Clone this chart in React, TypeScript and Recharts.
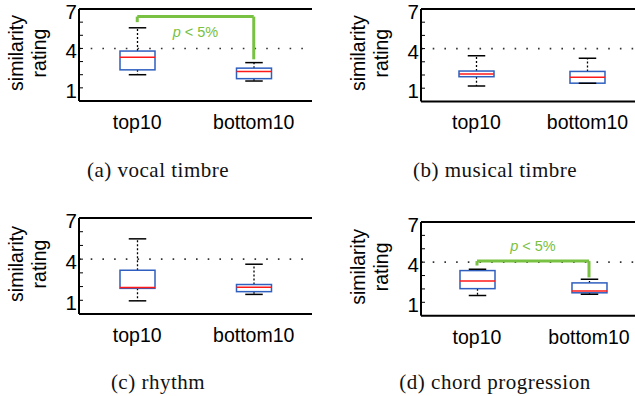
import React from "react";
import { ComposedChart, Bar, XAxis, YAxis, ReferenceLine } from "recharts";

const groups = ["top10", "bottom10"];
const yTicks = [1, 2, 3, 4, 5, 6, 7];
const labeledTicks = [1, 4, 7];
const midLine = 4;

// box plot stats, one entry per group: [top10, bottom10]
const vocalLow = [2.0, 1.52];
const vocalQ1 = [2.37, 1.7];
const vocalMed = [3.32, 2.25];
const vocalQ3 = [3.8, 2.5];
const vocalHigh = [5.57, 2.92];

const musicalLow = [1.17, 1.37];
const musicalQ1 = [1.87, 1.38];
const musicalMed = [2.07, 1.82];
const musicalQ3 = [2.3, 2.27];
const musicalHigh = [3.45, 3.27];

const rhythmLow = [0.96, 1.43];
const rhythmQ1 = [1.87, 1.63];
const rhythmMed = [1.93, 1.95];
const rhythmQ3 = [3.19, 2.15];
const rhythmHigh = [5.48, 3.63];

const chordLow = [1.5, 1.6];
const chordQ1 = [2.02, 1.71];
const chordMed = [2.6, 1.84];
const chordQ3 = [3.37, 2.45];
const chordHigh = [3.47, 2.73];

// significance brackets: [top, left foot, right foot]
const vocalBracket = [6.42, 6.0, 3.17];
const chordBracket = [4.08, 3.75, 2.86];
const sigText = "< 5%";

const captions = ["(a) vocal timbre", "(b) musical timbre", "(c) rhythm", "(d) chord progression"];

const SANS = "'Liberation Sans', Arial, sans-serif";
const GREEN = "#78c143";
const BLUE = "#2f5fbf";
const RED = "#ff1a1a";

function BoxShape(props: any) {
  const { x, y, width, height, payload } = props;
  const top = Math.min(y, y + height);
  const bot = Math.max(y, y + height);
  const lo = payload.low;
  const hi = payload.high;
  const py = (v: number) => bot - ((v - lo) / (hi - lo)) * (bot - top);
  const cx = x + width / 2;
  const cap = width / 2;
  return (
    <g>
      <line x1={cx} x2={cx} y1={py(payload.q3)} y2={top} stroke="#000" strokeWidth={1.3} strokeDasharray="2 2" />
      <line x1={cx} x2={cx} y1={py(payload.q1)} y2={bot} stroke="#000" strokeWidth={1.3} strokeDasharray="2 2" />
      <rect x={x} y={py(payload.q3)} width={width} height={py(payload.q1) - py(payload.q3)} fill="#fff" stroke={BLUE} strokeWidth={1.5} />
      <line x1={x} x2={x + width} y1={py(payload.med)} y2={py(payload.med)} stroke={RED} strokeWidth={1.5} />
      <line x1={cx - cap / 2} x2={cx + cap / 2} y1={top} y2={top} stroke="#000" strokeWidth={1.5} />
      <line x1={cx - cap / 2} x2={cx + cap / 2} y1={bot} y2={bot} stroke="#000" strokeWidth={1.5} />
    </g>
  );
}

function YTick(props: any) {
  const { x, y, payload } = props;
  if (!labeledTicks.includes(payload.value)) return <g />;
  return (
    <text x={x} y={y + 10} textAnchor="end" fontFamily={SANS} fontSize={20.5} fill="#000">
      {payload.value}
    </text>
  );
}

function XTick(props: any) {
  const { x, y, payload } = props;
  return (
    <text x={x} y={y + 20} textAnchor="middle" fontFamily={SANS} fontSize={19.5} fill="#000">
      {payload.value}
    </text>
  );
}

function YLabel(props: any) {
  const vb = props.viewBox || { x: 0, y: 0, height: 0 };
  const cy = vb.y + vb.height / 2 - 2;
  return (
    <g fontFamily={SANS} fontSize={19.5} fill="#000">
      <text x={16} y={cy} transform={`rotate(-90, 16, ${cy})`} textAnchor="middle" dominantBaseline="central">
        similarity
      </text>
      <text x={39} y={cy} transform={`rotate(-90, 39, ${cy})`} textAnchor="middle" dominantBaseline="central">
        rating
      </text>
    </g>
  );
}

type PanelProps = {
  left: number;
  top: number;
  plotW: number;
  plotH: number;
  low: number[];
  q1: number[];
  med: number[];
  q3: number[];
  high: number[];
  bracket?: number[];
  textBelow?: boolean;
};

function Panel({ left, top, plotW, plotH, low, q1, med, q3, high, bracket, textBelow }: PanelProps) {
  const ML = 79;
  const MR = 10;
  const MT = 10;
  const MB = 40;
  const data = groups.map((g, i) => ({
    name: g,
    range: [low[i], high[i]],
    low: low[i],
    q1: q1[i],
    med: med[i],
    q3: q3[i],
    high: high[i],
  }));

  const sigLabel = (p: any) => {
    const vb = p.viewBox || {};
    const cx = vb.x + (vb.width || 0) / 2;
    const ty = textBelow ? vb.y + 20.5 : vb.y - 10.5;
    return (
      <text x={cx} y={ty} textAnchor="middle" fontFamily={SANS} fontSize={14.5} fill={GREEN}>
        <tspan fontStyle="italic">p</tspan> {sigText}
      </text>
    );
  };

  return (
    <div style={{ position: "absolute", left: left - ML, top: top - MT }}>
      <ComposedChart
        width={ML + plotW + MR}
        height={MT + plotH + MB}
        data={data}
        margin={{ top: MT, right: MR, bottom: 0, left: 0 }}
      >
        <XAxis
          dataKey="name"
          height={MB}
          axisLine={{ stroke: "#000", strokeWidth: 2 }}
          tickLine={false}
          tick={<XTick />}
          interval={0}
        />
        <YAxis
          yAxisId="l"
          width={ML}
          domain={[0, 7]}
          ticks={yTicks}
          interval={0}
          type="number"
          allowDataOverflow
          axisLine={{ stroke: "#000", strokeWidth: 2 }}
          tickLine={{ stroke: "#000" }}
          tickSize={-4}
          tickMargin={6}
          tick={<YTick />}
          label={{ content: <YLabel /> }}
        />
        <YAxis
          yAxisId="r"
          orientation="right"
          width={0}
          domain={[0, 7]}
          ticks={yTicks}
          interval={0}
          type="number"
          allowDataOverflow
          axisLine={{ stroke: "#000", strokeWidth: 2 }}
          tickLine={{ stroke: "#000" }}
          tickSize={-4}
          tick={() => <g />}
        />
        <ReferenceLine yAxisId="l" y={midLine} stroke="#333" strokeWidth={1.6} strokeDasharray="1.6 10.1" />
        <ReferenceLine yAxisId="l" y={7} stroke="#000" strokeWidth={2} />
        <Bar yAxisId="l" dataKey="range" barSize={35} shape={<BoxShape />} isAnimationActive={false} />
        {bracket && (
          <ReferenceLine
            yAxisId="l"
            segment={[{ x: groups[0], y: bracket[0] }, { x: groups[1], y: bracket[0] }]}
            stroke={GREEN}
            strokeWidth={3}
            label={sigLabel}
          />
        )}
        {bracket && (
          <ReferenceLine
            yAxisId="l"
            segment={[{ x: groups[0], y: bracket[0] }, { x: groups[0], y: bracket[1] }]}
            stroke={GREEN}
            strokeWidth={3}
          />
        )}
        {bracket && (
          <ReferenceLine
            yAxisId="l"
            segment={[{ x: groups[1], y: bracket[0] }, { x: groups[1], y: bracket[2] }]}
            stroke={GREEN}
            strokeWidth={3}
          />
        )}
      </ComposedChart>
    </div>
  );
}

function Caption({ cx, cy, text }: { cx: number; cy: number; text: string }) {
  return (
    <div
      style={{
        position: "absolute",
        left: cx - 150,
        top: cy - 12,
        width: 300,
        textAlign: "center",
        fontFamily: "'Liberation Serif', 'Times New Roman', serif",
        fontSize: 21,
        lineHeight: "24px",
        letterSpacing: 0.5,
        color: "#111",
        whiteSpace: "nowrap",
      }}
    >
      {text}
    </div>
  );
}

export default function App() {
  return (
    <div
      style={{
        position: "absolute",
        left: 0,
        top: 0,
        width: 635,
        height: 396,
        overflow: "hidden",
        background: "#fff",
      }}
    >
      <Panel left={79} top={8.5} plotW={233} plotH={92} low={vocalLow} q1={vocalQ1} med={vocalMed} q3={vocalQ3} high={vocalHigh} bracket={vocalBracket} textBelow />
      <Panel left={421} top={9.3} plotW={222} plotH={92.4} low={musicalLow} q1={musicalQ1} med={musicalMed} q3={musicalQ3} high={musicalHigh} />
      <Panel left={79} top={218} plotW={233} plotH={96} low={rhythmLow} q1={rhythmQ1} med={rhythmMed} q3={rhythmQ3} high={rhythmHigh} />
      <Panel left={421} top={222.3} plotW={224} plotH={93.7} low={chordLow} q1={chordQ1} med={chordMed} q3={chordQ3} high={chordHigh} bracket={chordBracket} />
      <Caption cx={158} cy={170} text={captions[0]} />
      <Caption cx={495} cy={170} text={captions[1]} />
      <Caption cx={158} cy={382} text={captions[2]} />
      <Caption cx={495} cy={382} text={captions[3]} />
    </div>
  );
}
